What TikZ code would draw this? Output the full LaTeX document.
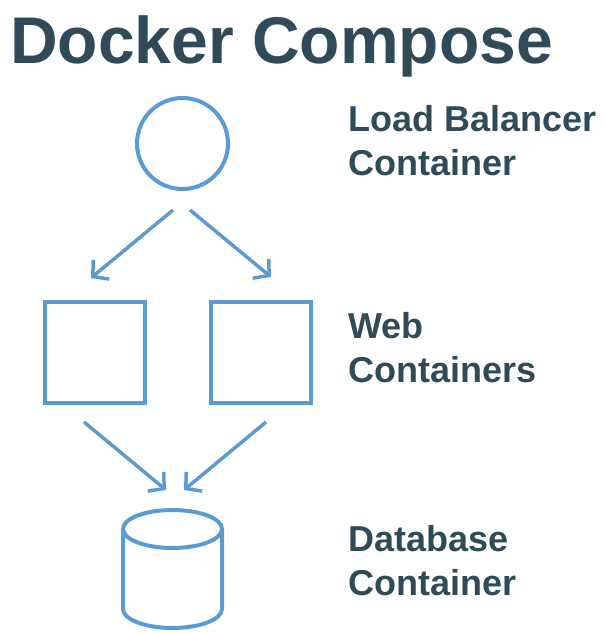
\documentclass[tikz,border=0pt]{standalone}
\usepackage{fontspec}
\setmainfont{Liberation Sans}
\usetikzlibrary{arrows.meta}
\definecolor{boxblue}{RGB}{91,155,213}
\definecolor{slate}{RGB}{47,74,88}

\begin{document}
\begin{tikzpicture}[x=1pt, y=-1pt,
    part/.style={draw=boxblue, line width=4pt, inner sep=0pt},
    flow/.style={draw=boxblue, line width=3.5pt, -{Straight Barb[length=11pt,width=25pt]}},
    caption/.style={anchor=base west, inner sep=0pt, align=left, text=slate,
        font=\fontsize{36}{44}\selectfont\bfseries}]
    \useasboundingbox (0,0) rectangle (606,633);

    \node[anchor=base west, inner sep=0pt, text=slate,
        font=\fontsize{66}{70}\selectfont\bfseries] (title) at (10,63) {Docker Compose};

    \node[part, circle, minimum size=91pt] (lb) at (182.5,143.5) {};
    \node[part, minimum width=100pt, minimum height=101pt] (web1) at (95,352.5) {};
    \node[part, minimum width=100pt, minimum height=101pt] (web2) at (261,352.5) {};

    % database cylinder
    \coordinate (db) at (172.5,529);
    \draw[part] (db) ellipse [x radius=49.5pt, y radius=19pt];
    \draw[part] ([xshift=-49.5pt]db) -- ++(0,80)
        arc[start angle=180, end angle=360, x radius=49.5pt, y radius=19pt] -- ++(0,-80);

    % captions, anchored at the baseline of their last line
    \node[caption] (lbcap) at (348,175) {Load Balancer\\Container};
    \node[caption] (webcap) at (348,382) {Web\\Containers};
    \node[caption] (dbcap) at (348,595) {Database\\Container};

    \coordinate (lbL) at (173,210);
    \coordinate (lbR) at (190,210);
    \coordinate (web1In) at (91,278);
    \coordinate (web2In) at (271,277);
    \coordinate (web1Out) at (84,422);
    \coordinate (web2Out) at (266,422);
    \coordinate (dbInL) at (166,490);
    \coordinate (dbInR) at (184,490);

    \draw[flow] (lbL) -- (web1In);
    \draw[flow] (lbR) -- (web2In);
    \draw[flow] (web1Out) -- (dbInL);
    \draw[flow] (web2Out) -- (dbInR);
\end{tikzpicture}
\end{document}
